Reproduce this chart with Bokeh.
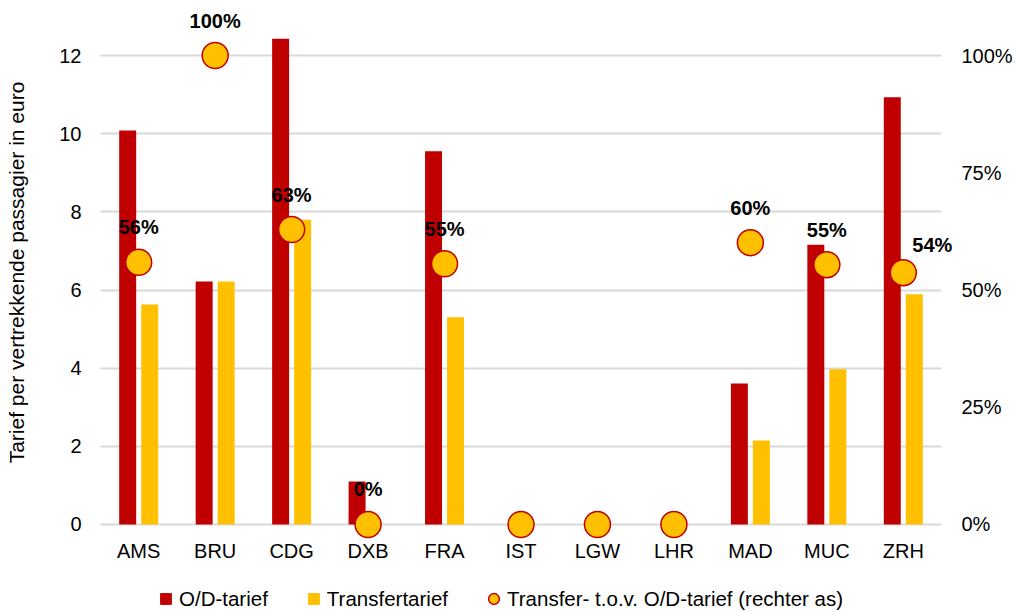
from bokeh.plotting import figure
from bokeh.layouts import column
from bokeh.models import (ColumnDataSource, Range1d, LinearAxis, FixedTicker,
                          NumeralTickFormatter, Legend, LegendItem, FactorRange)
from bokeh.transform import dodge
from bokeh.core.properties import value
from bokeh.embed import file_html
from bokeh.resources import INLINE

# ---- data ----
airports = ["AMS", "BRU", "CDG", "DXB", "FRA", "IST", "LGW", "LHR", "MAD", "MUC", "ZRH"]
od_tarief = [10.08, 6.22, 12.43, 1.10, 9.55, 0, 0, 0, 3.61, 7.16, 10.93]
transfer_tarief = [5.63, 6.22, 7.80, 0, 5.30, 0, 0, 0, 2.15, 3.97, 5.89]
transfer_ratio = [0.559, 1.00, 0.629, 0.0, 0.556, 0.0, 0.0, 0.0, 0.601, 0.554, 0.537]
ratio_labels = ["56%", "100%", "63%", "0%", "55%", "", "", "", "60%", "55%", "54%"]
left_ticks = [0, 2, 4, 6, 8, 10, 12]
right_ticks = [0, 0.25, 0.5, 0.75, 1.0]
legend_labels = ["O/D-tarief", "Transfertarief", "Transfer- t.o.v. O/D-tarief (rechter as)"]

RED = "#C00000"
YELLOW = "#FFC000"
GRID = "#D9D9D9"
FONT = "Liberation Sans"
TXT = "#000000"

# visible value range (extra room so labels/markers beyond the axis span are not clipped)
y_min, y_max = -0.384, 13.28

# label offsets (ZRH label sits to the right of its marker)
x_off = [29 if a == "ZRH" else 0 for a in airports]
y_off = [-28 if a == "ZRH" else -35 for a in airports]

source = ColumnDataSource(dict(
    airport=airports, od=od_tarief, tr=transfer_tarief,
    ratio=transfer_ratio, lab=ratio_labels, xo=x_off, yo=y_off,
))

p = figure(width=1018, height=570,
           x_range=FactorRange(factors=airports, range_padding=0.222, range_padding_units="absolute"),
           y_range=Range1d(y_min, y_max), output_backend="svg", toolbar_location=None,
           min_border_left=83, min_border_right=60, min_border_top=5, min_border_bottom=31)
p.outline_line_color = None
p.background_fill_color = "white"
p.border_fill_color = "white"

p.extra_y_ranges = {"pct": Range1d(y_min / 12.0, y_max / 12.0)}

# bars
p.vbar(x=dodge("airport", -0.144, range=p.x_range), top="od", width=0.222,
       source=source, fill_color=RED, line_color=None)
p.vbar(x=dodge("airport", 0.144, range=p.x_range), top="tr", width=0.222,
       source=source, fill_color=YELLOW, line_color=None)

# ratio markers on right axis
p.scatter(x="airport", y="ratio", source=source, y_range_name="pct", marker="circle",
          size=26, fill_color=YELLOW, line_color=RED, line_width=1.5)

p.text(x="airport", y="ratio", text="lab", source=source, y_range_name="pct",
       x_offset="xo", y_offset="yo", text_align="center", text_baseline="middle",
       text_font=value(FONT), text_font_style="bold", text_font_size="20px",
       text_color=TXT)

# axes
p.yaxis.ticker = FixedTicker(ticks=left_ticks)
p.yaxis.axis_label = "Tarief per vertrekkende passagier in euro"
p.yaxis.axis_label_text_font = FONT
p.yaxis.axis_label_text_font_style = "normal"
p.yaxis.axis_label_text_font_size = "21px"
p.yaxis.axis_label_text_color = TXT
p.yaxis.axis_label_standoff = 28
p.yaxis.major_label_text_font = FONT
p.yaxis.major_label_text_font_size = "20px"
p.yaxis.major_label_text_color = TXT
p.yaxis.major_label_standoff = -4
p.yaxis.axis_line_color = None
p.yaxis.major_tick_line_color = None
p.yaxis.minor_tick_line_color = None

right = LinearAxis(y_range_name="pct", ticker=FixedTicker(ticks=right_ticks),
                   formatter=NumeralTickFormatter(format="0%"))
right.major_label_text_font = FONT
right.major_label_text_font_size = "20px"
right.major_label_text_color = TXT
right.major_label_standoff = -3
right.axis_line_color = None
right.major_tick_line_color = None
right.minor_tick_line_color = None
p.add_layout(right, "right")

p.xaxis.major_label_text_font = FONT
p.xaxis.major_label_text_font_size = "20px"
p.xaxis.major_label_text_color = TXT
p.xaxis.major_label_standoff = -6
p.xaxis.axis_line_color = None
p.xaxis.major_tick_line_color = None
p.xaxis.minor_tick_line_color = None

p.xgrid.grid_line_color = None
p.ygrid.grid_line_color = GRID
p.ygrid.grid_line_width = 2
p.ygrid.cross_bounds = (0, len(airports))

# ---- legend strip (separate figure so nothing is clipped) ----
lg = figure(width=1018, height=42, output_backend="svg", toolbar_location=None,
            x_axis_type=None, y_axis_type=None, x_range=Range1d(0, 1), y_range=Range1d(0, 1),
            min_border_left=0, min_border_right=0, min_border_top=0, min_border_bottom=0)
lg.outline_line_color = None
lg.xgrid.visible = False
lg.ygrid.visible = False
nan = float("nan")
l1 = lg.scatter(x=[nan], y=[nan], marker="square", fill_color=RED, line_color=RED)
l2 = lg.scatter(x=[nan], y=[nan], marker="square", fill_color=YELLOW, line_color=YELLOW)
l3 = lg.scatter(x=[nan], y=[nan], marker="circle", fill_color=YELLOW, line_color=RED, line_width=1.5)
legend = Legend(items=[LegendItem(label=legend_labels[0], renderers=[l1]),
                       LegendItem(label=legend_labels[1], renderers=[l2]),
                       LegendItem(label=legend_labels[2], renderers=[l3])],
                orientation="horizontal", location=(69, 0), glyph_width=27, glyph_height=27,
                label_standoff=0, spacing=32, padding=0, margin=0,
                border_line_color=None, background_fill_alpha=0,
                label_text_font=FONT, label_text_font_size="20.5px", label_text_color=TXT)
lg.add_layout(legend, "center")

layout = column(p, lg, spacing=0)
open("out.html", "w").write(file_html(layout, INLINE))
